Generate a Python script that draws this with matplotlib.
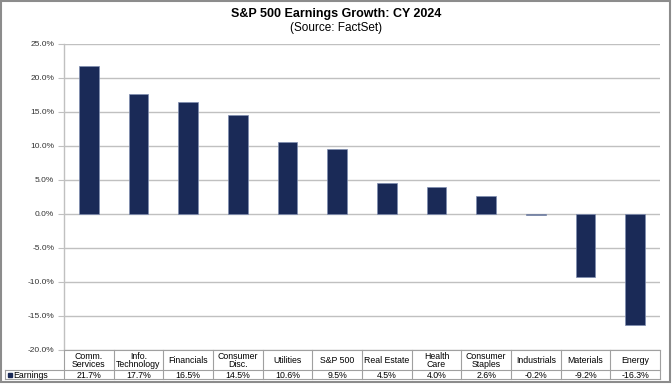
import matplotlib
matplotlib.use("Agg")
import matplotlib.pyplot as plt
from matplotlib.lines import Line2D
from matplotlib.patches import Rectangle
from matplotlib.transforms import blended_transform_factory

plt.rcParams["font.family"] = ["Liberation Sans", "DejaVu Sans"]

categories = ["Comm.\nServices", "Info.\nTechnology", "Financials", "Consumer\nDisc.",
              "Utilities", "S&P 500", "Real Estate", "Health\nCare", "Consumer\nStaples",
              "Industrials", "Materials", "Energy"]
earnings = [21.7, 17.7, 16.5, 14.5, 10.6, 9.5, 4.5, 4.0, 2.6, -0.2, -9.2, -16.3]
series_name = "Earnings"
yticks = [-20, -15, -10, -5, 0, 5, 10, 15, 20, 25]

W, H = 672, 384
fig = plt.figure(figsize=(W / 100, H / 100), dpi=100)

# plot area in pixels
left, right, top, bottom = 64, 660, 44, 350
ax = fig.add_axes([left / W, 1 - bottom / H, (right - left) / W, (bottom - top) / H])

bar_color = "#1a2a57"
grid_color = "#c0c0c0"
x = list(range(len(categories)))
ax.bar(x, earnings, width=0.4, color=bar_color, edgecolor="#7f8db0", linewidth=0.5, zorder=3)

ax.set_xlim(-0.5, len(categories) - 0.5)
ax.set_ylim(-20, 25)
ax.set_yticks(yticks)
ax.set_yticklabels([f"{v:.1f}%" for v in yticks], fontsize=6, color="#333333")
ax.set_xticks([])
ax.tick_params(axis="y", length=4, width=0.8, color=grid_color, pad=3)
ax.grid(axis="y", color=grid_color, linewidth=1.0, zorder=0)
for side in ["top", "right", "bottom"]:
    ax.spines[side].set_visible(False)
ax.spines["left"].set_color(grid_color)
ax.spines["left"].set_linewidth(1.0)

fig.text(0.5, 1 - 14 / H, "S&P 500 Earnings Growth: CY 2024", ha="center", va="center",
         fontsize=9, fontweight="bold")
fig.text(0.5, 1 - 28 / H, "(Source: FactSet)", ha="center", va="center", fontsize=8.5)

# data table under the plot
tr = blended_transform_factory(ax.transData, fig.transFigure)
def fy(px):
    return 1 - px / H

row_top, row_mid, row_bot = 350, 370, 379
line_kw = dict(color="#a0a0a0", linewidth=0.8)
fig.add_artist(Line2D([-0.5, len(categories) - 0.5], [fy(row_top)] * 2, transform=tr, **line_kw))
fig.add_artist(Line2D([5 / W, right / W], [fy(row_mid)] * 2, transform=fig.transFigure, **line_kw))
fig.add_artist(Line2D([5 / W, right / W], [fy(row_bot)] * 2, transform=fig.transFigure, **line_kw))
fig.add_artist(Line2D([5 / W, 5 / W], [fy(row_mid), fy(row_bot)], transform=fig.transFigure, **line_kw))
for i in range(len(categories) + 1):
    fig.add_artist(Line2D([i - 0.5, i - 0.5], [fy(row_top), fy(row_bot)], transform=tr, **line_kw))

for i, (cat, val) in enumerate(zip(categories, earnings)):
    fig.text(i, fy((row_top + row_mid) / 2 + 0.5), cat, transform=tr, ha="center", va="center",
             fontsize=6.3, linespacing=0.9)
    fig.text(i, fy((row_mid + row_bot) / 2 + 0.5), f"{val:.1f}%", transform=tr, ha="center",
             va="center", fontsize=6.3)

fig.add_artist(Rectangle((8 / W, fy(377)), 4 / W, 4 / H, transform=fig.transFigure,
                         color=bar_color))
fig.text(13 / W, fy((row_mid + row_bot) / 2 + 0.5), series_name, ha="left", va="center",
         fontsize=6.3)

# outer frame
fig.add_artist(Rectangle((1 / W, fy(382)), (670 - 1) / W, (382 - 1) / H, transform=fig.transFigure,
                         fill=False, edgecolor="#8c8c8c", linewidth=1.5))

fig.savefig("out.png", dpi=100)
